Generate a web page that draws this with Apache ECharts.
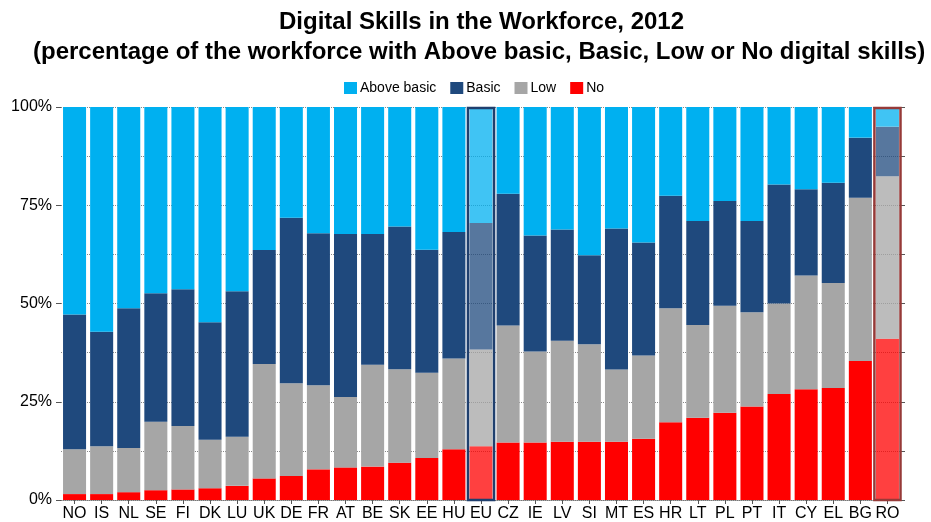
<!DOCTYPE html>
<html>
<head>
<meta charset="utf-8">
<script src="https://cdn.jsdelivr.net/npm/echarts@6/dist/echarts.min.js"></script>
<style>
html,body{margin:0;padding:0;background:#fff;}
#chart{width:931px;height:522px;}
</style>
</head>
<body>
<div id="chart"></div>
<script>
// ---- data ----
const categories = ['NO','IS','NL','SE','FI','DK','LU','UK','DE','FR','AT','BE','SK','EE','HU','EU','CZ','IE','LV','SI','MT','ES','HR','LT','PL','PT','IT','CY','EL','BG','RO'];
const noSkills    = [1.5,1.5,2.0,2.5,2.7,3.0,3.6,5.5,6.1,7.8,8.3,8.5,9.5,10.7,12.9,13.7,14.6,14.6,14.8,14.8,14.8,15.6,19.8,20.9,22.2,23.8,27.0,28.2,28.5,35.4,41.0];
const lowSkills   = [11.4,12.2,11.2,17.4,16.1,12.3,12.5,29.1,23.6,21.4,17.9,25.9,23.8,21.7,23.1,24.6,29.8,23.2,25.7,24.8,18.4,21.2,29.0,23.6,27.2,24.0,23.0,28.9,26.7,41.5,41.4];
const basicSkills = [34.3,29.1,35.6,32.7,34.8,29.9,37.0,29.0,42.1,38.7,41.5,33.3,36.3,31.3,32.2,32.2,33.5,29.5,28.3,22.7,35.9,28.7,28.6,26.5,26.7,23.2,30.3,22.0,25.5,15.3,12.6];
const aboveBasic  = [52.8,57.2,51.2,47.4,46.4,54.8,46.9,36.4,28.2,32.1,32.3,32.3,30.4,36.3,31.8,29.5,22.1,32.7,31.2,37.7,30.9,34.5,22.6,29.0,23.9,29.0,19.7,20.9,19.3,7.8,5.0];
const seriesNames = ['Above basic','Basic','Low','No'];
const yTickLabels = ['0%','25%','50%','75%','100%'];
const highlighted = ['EU','RO'];
const frameColors = ['#1f3f6e','#963a38'];
const titleLines = ['Digital Skills in the Workforce, 2012', '(percentage of the workforce with Above basic, Basic, Low or No digital skills)'];

const colors = {'Above basic':'#00b0f0','Basic':'#1f497d','Low':'#a6a6a6','No':'#ff0000'};

function mk(name, vals){
  return {
    name: name, type: 'bar', stack: 'total', barWidth: '85%',
    itemStyle: {color: colors[name]},
    data: vals.map((v,i)=> highlighted.includes(categories[i]) ? {value:v, itemStyle:{opacity:0.75}} : v)
  };
}

const chart = echarts.init(document.getElementById('chart'), null, {renderer:'canvas'});
const font = 'Liberation Sans, Arial, sans-serif';
const titleStyle = {fontSize: 24, fontWeight: 'bold', color: '#000', fontFamily: font};
chart.setOption({
  animation: false,
  textStyle: {fontFamily: font},
  title: [
    {text: titleLines[0], left: 279, top: 10, padding: 0, textStyle: titleStyle},
    {text: titleLines[1], left: 33, top: 40, padding: 0, textStyle: titleStyle}
  ],
  legend: {
    data: seriesNames, top: 76, left: 339, itemWidth: 13, itemHeight: 12, itemGap: 14,
    icon: 'rect',
    textStyle: {fontSize: 14, color: '#000', fontFamily: font, padding:[0,0,0,-2]}
  },
  grid: {left: 61, right: 30, top: 107, bottom: 22, containLabel: false},
  xAxis: {
    type: 'category', data: categories,
    axisLine: {show: true, lineStyle: {color: '#777', type: 'dotted'}},
    axisTick: {show: true, alignWithLabel: true, length: 4, lineStyle: {color: '#555'}},
    axisLabel: {fontSize: 16, color: '#000', margin: 6, interval: 0, fontFamily: font}
  },
  yAxis: [{
    type: 'value', min: 0, max: 100, interval: 25,
    axisLine: {show: false},
    axisTick: {show: true, length: 5, lineStyle: {color: '#555'}},
    minorTick: {show: false, splitNumber: 2},
    splitLine: {show: true, lineStyle: {color: '#888', type: 'dotted'}},
    minorSplitLine: {show: true, lineStyle: {color: '#888', type: 'dotted'}},
    axisLabel: {fontSize: 16, color: '#000', margin: 9, fontFamily: font,
      formatter: v => yTickLabels[v/25]}
  },{
    type: 'value', min: 0, max: 100, interval: 12.5, position: 'right',
    axisLine: {show: false},
    axisTick: {show: true, length: 4, inside: false, lineStyle: {color: '#555'}},
    splitLine: {show: false},
    axisLabel: {show: false}
  }],
  series: [
    mk('No', noSkills),
    mk('Low', lowSkills),
    mk('Basic', basicSkills),
    mk('Above basic', aboveBasic),
    {
      type: 'custom', name: 'frame', silent: true, z: 5,
      data: highlighted.map(c => [categories.indexOf(c), 100]),
      renderItem: function(params, api){
        const idx = api.value(0);
        const top = api.coord([idx, 100]);
        const bot = api.coord([idx, 0]);
        const w = api.size([1, 0])[0];
        return {
          type: 'rect',
          shape: {x: top[0] - w/2 + 0.5, y: top[1] + 1, width: w - 1, height: bot[1] - top[1] - 1},
          style: {fill: 'none', stroke: frameColors[params.dataIndex], lineWidth: 2.5}
        };
      }
    }
  ]
});
</script>
</body>
</html>
